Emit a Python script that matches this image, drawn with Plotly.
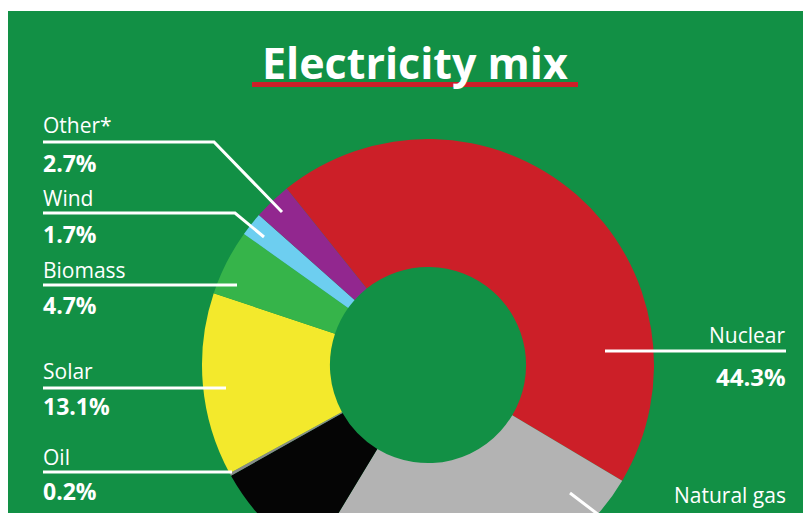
import plotly.graph_objects as go

# ---- data ----
sources = ["Nuclear", "Natural gas", "Coal", "Oil", "Solar", "Biomass", "Wind", "Other*"]
shares = [44.3, 25.1, 8.2, 0.2, 13.1, 4.7, 1.7, 2.7]
colors = ["#CC1F28", "#B3B3B3", "#050505", "#8A8A8A", "#F3E92C", "#36B44A", "#6DCEF0", "#92278F"]
title_text = "Electricity mix"

GREEN = "#129045"
WHITE = "#FFFFFF"
FONT = "Open Sans"

fig = go.Figure()

# pixel-space helper axes (viewport coords)
W, H = 803, 583
fig.update_layout(
    width=W, height=H,
    margin=dict(l=0, r=0, t=0, b=0),
    paper_bgcolor="white",
    plot_bgcolor="rgba(0,0,0,0)",
    showlegend=False,
    xaxis=dict(range=[8, 811], visible=False, fixedrange=True),
    yaxis=dict(range=[591, 8], visible=False, fixedrange=True),
)

fig.add_trace(go.Scatter(x=[8, 811], y=[591, 8], mode="markers",
                         marker=dict(opacity=0), hoverinfo="skip"))

cx, cy, R = 428, 365, 226
fig.add_trace(go.Pie(
    labels=sources, values=shares, sort=False, direction="clockwise",
    rotation=321.3, hole=0.434,
    marker=dict(colors=colors, line=dict(width=0)),
    textinfo="none", hoverinfo="label+percent",
    domain=dict(x=[(cx - R - 8) / W, (cx + R - 8) / W],
                y=[(591 - (cy + R)) / H, (591 - (cy - R)) / H]),
))

shapes = [
    dict(type="rect", xref="x", yref="y", x0=8, x1=811, y0=11, y1=591,
         fillcolor=GREEN, line=dict(width=0), layer="below"),
    dict(type="rect", xref="x", yref="y", x0=252, x1=578, y0=82, y1=87,
         fillcolor="#CC1F28", line=dict(width=0), layer="above"),
]
leaders = [
    "M43,142 L214,142 L282,212",
    "M43,213 L235,213 L264,237",
    "M43,285 L237,285",
    "M43,388 L226,388",
    "M43,472 L232,472",
    "M605,351 L786,351",
    "M570,493 L612,525 L786,525",
]
for p in leaders:
    shapes.append(dict(type="path", xref="x", yref="y", path=p,
                       line=dict(color=WHITE, width=3), layer="above"))
fig.update_layout(shapes=shapes)

ann = []
ann.append(dict(x=415, y=62, text="<b>" + title_text + "</b>", showarrow=False,
                xanchor="center", yanchor="middle",
                font=dict(family=FONT, size=43, color=WHITE)))

pct = {s: v for s, v in zip(sources, shares)}
left_labels = [("Other*", 125, 163), ("Wind", 198, 234), ("Biomass", 270, 305),
               ("Solar", 371, 406), ("Oil", 457, 491)]
for name, yn, yp in left_labels:
    ann.append(dict(x=41, y=yn, text=name, showarrow=False, xanchor="left", yanchor="middle",
                    font=dict(family=FONT, size=21, color=WHITE)))
    ann.append(dict(x=41, y=yp, text="<b>%.1f%%</b>" % pct[name], showarrow=False,
                    xanchor="left", yanchor="middle",
                    font=dict(family=FONT, size=23, color=WHITE)))

ann.append(dict(x=788, y=335, text="Nuclear", showarrow=False, xanchor="right", yanchor="middle",
                font=dict(family=FONT, size=21, color=WHITE)))
ann.append(dict(x=788, y=376, text="<b>%.1f%%</b>" % pct["Nuclear"], showarrow=False,
                xanchor="right", yanchor="middle", font=dict(family=FONT, size=24, color=WHITE)))
ann.append(dict(x=788, y=495, text="Natural gas", showarrow=False, xanchor="right", yanchor="middle",
                font=dict(family=FONT, size=21, color=WHITE)))
fig.update_layout(annotations=ann)

fig.write_html("out.html", post_script="document.body.style.overflow='hidden';")
